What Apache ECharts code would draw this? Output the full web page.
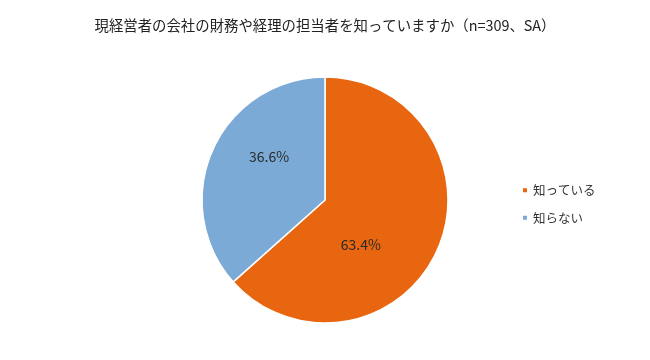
<!DOCTYPE html>
<html><head><meta charset="utf-8">
<script src="https://cdn.jsdelivr.net/npm/echarts@6/dist/echarts.min.js"></script>
<style>html,body{margin:0;padding:0;background:#fff}#c{width:650px;height:360px}</style>
</head><body><div id="c"></div>
<script>
const titleText = '現経営者の会社の財務や経理の担当者を知っていますか（n=309、SA）';
const categories = ['知っている', '知らない'];
const values = [63.4, 36.6];
const colors = ['#E96610', '#7BAAD7'];
const labelOffsets = [[-23, 18], [3, -17]];

const chart = echarts.init(document.getElementById('c'), null, {renderer: 'canvas'});
const font = '"Noto Sans CJK JP", "Noto Sans", sans-serif';
chart.setOption({
  animation: false,
  backgroundColor: '#fff',
  title: {
    text: titleText, left: 'center', top: 13,
    textStyle: {fontFamily: font, fontSize: 14.4, fontWeight: 'normal', color: '#222'}
  },
  legend: {
    orient: 'vertical', left: 516, top: 179,
    icon: 'rect', itemWidth: 6, itemHeight: 6, itemGap: 15,
    textStyle: {fontFamily: font, fontSize: 12.5, color: '#333'},
    data: categories
  },
  series: [{
    type: 'pie',
    center: [325, 200], radius: 123,
    startAngle: 90, clockwise: true,
    itemStyle: {borderColor: '#fff', borderWidth: 1.5},
    label: {show: true, position: 'inside', fontFamily: font, fontSize: 14, color: '#2a2a2a',
      formatter: p => p.value.toFixed(1) + '%'},
    labelLine: {show: false},
    emphasis: {disabled: true},
    data: categories.map((c, i) => ({
      name: c, value: values[i],
      itemStyle: {color: colors[i]},
      label: {offset: labelOffsets[i]}
    }))
  }]
});
</script></body></html>
